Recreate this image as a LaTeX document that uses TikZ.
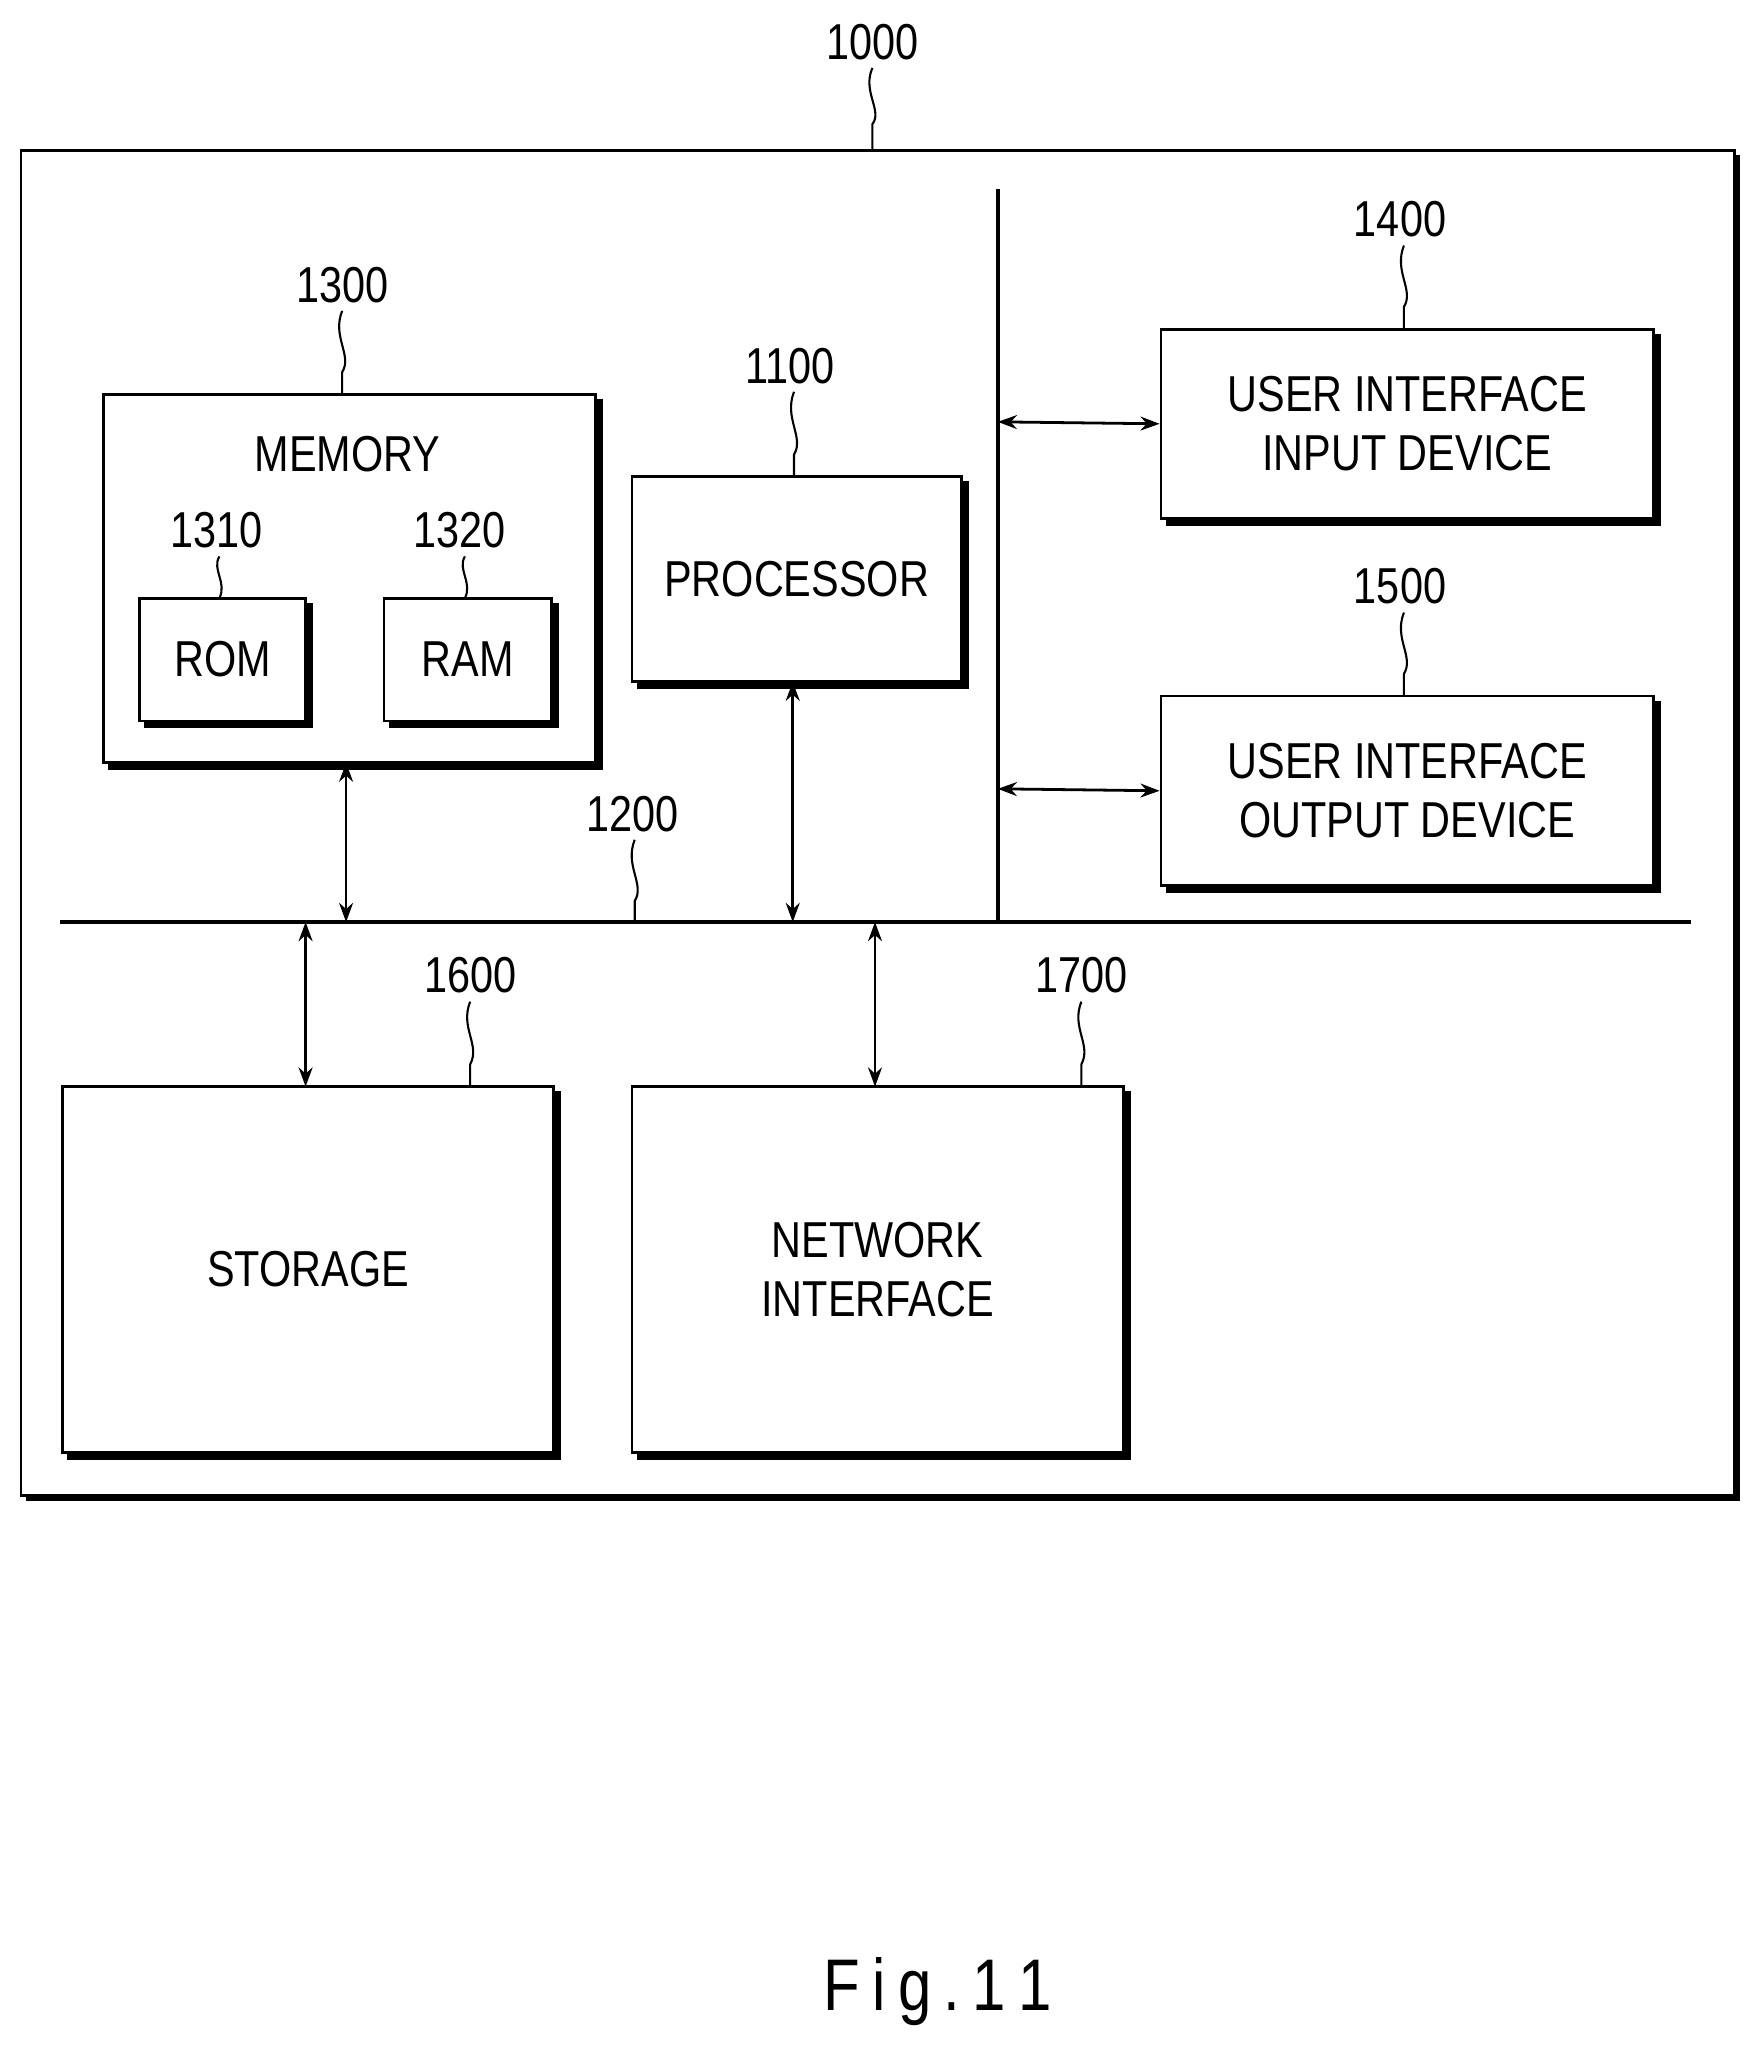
\documentclass[tikz,border=0pt]{standalone}
\usepackage{fontspec}
\setmainfont{Liberation Sans}[FakeStretch=0.82]
\usetikzlibrary{shadows,arrows.meta}
\begin{document}
\begin{tikzpicture}[x=0.75pt,y=-0.75pt,
 box/.style={draw,line width=1.6pt,fill=white,copy shadow={shadow xshift=3.5pt,shadow yshift=-3.5pt,fill=black,draw=black},inner sep=0pt,align=center,font=\fontsize{29}{36}\selectfont},
 lbl/.style={font=\fontsize{29}{34}\selectfont,inner sep=0pt},
 sq/.style={line width=1.2pt},
 arr/.style={line width=1.6pt,{Stealth[length=11pt,width=8pt]}-{Stealth[length=11pt,width=8pt]}},
 ln/.style={line width=2.2pt}]
\useasboundingbox (0,0) rectangle (1350,1572);
% outer
\fill (20,119) rectangle (1332,1149);
\draw[line width=1.6pt,fill=white] (16,115) rectangle (1328,1145);
\node[lbl] (l1000) at (668,32) {1000};
\coordinate (t1000) at (668,115);
\draw[sq] (668,52) .. controls (660,70) and (676,85) .. (668,95) -- (t1000);
% memory
\node[box,minimum width=282.75pt,minimum height=211.5pt] (mem) at (267.5,443) {};
\node[lbl] at (266,348) {MEMORY};
\node[lbl] (l1300) at (262,218) {1300};
\draw[sq] (262,238) .. controls (254,258) and (270,272) .. (262,285) -- (mem.north -| 262,0);
\node[box,minimum width=95.25pt,minimum height=70.5pt] (rom) at (170.5,505) {ROM};
\node[lbl] (l1310) at (166,406) {1310};
\draw[sq] (168,426) .. controls (162,436) and (174,446) .. (168,458);
\node[box,minimum width=96pt,minimum height=70.5pt] (ram) at (358,505) {RAM};
\node[lbl] (l1320) at (352,406) {1320};
\draw[sq] (356,426) .. controls (350,436) and (362,446) .. (356,458);
% processor
\node[box,minimum width=189pt,minimum height=117.75pt] (proc) at (610,443.5) {PROCESSOR};
\node[lbl] (l1100) at (605,280) {1100};
\draw[sq] (608,300) .. controls (600,320) and (616,335) .. (608,348) -- (608,365);
% UI
\node[box,minimum width=282.75pt,minimum height=108.75pt] (uin) at (1077.5,324.5) {USER INTERFACE\\[-2pt]INPUT DEVICE};
\node[lbl] (l1400) at (1072,168) {1400};
\draw[sq] (1075,188) .. controls (1067,208) and (1083,222) .. (1075,235) -- (1075,252);
\node[box,minimum width=282.75pt,minimum height=108.75pt] (uout) at (1077.5,605.5) {USER INTERFACE\\[-2pt]OUTPUT DEVICE};
\node[lbl] (l1500) at (1072,449) {1500};
\draw[sq] (1075,469) .. controls (1067,489) and (1083,503) .. (1075,516) -- (1075,533);
% storage / network
\node[box,minimum width=282pt,minimum height=210pt] (sto) at (236,972) {STORAGE};
\node[lbl] (l1600) at (360,747) {1600};
\draw[sq] (360,767) .. controls (352,787) and (368,800) .. (360,815) -- (360,832);
\node[box,minimum width=282pt,minimum height=210pt] (net) at (672,972) {NETWORK\\[-2pt]INTERFACE};
\node[lbl] (l1700) at (828,747) {1700};
\draw[sq] (828,767) .. controls (820,787) and (836,800) .. (828,815) -- (828,832);
% bus
\coordinate (bl) at (46,706); \coordinate (br) at (1295,706);
\draw[ln] (bl) -- (br);
\coordinate (vt) at (764,145); \coordinate (vb) at (764,706);
\draw[ln] (vt) -- (vb);
\node[lbl] (l1200) at (484,623) {1200};
\draw[sq] (486,643) .. controls (478,663) and (494,677) .. (486,690) -- (486,706);
% arrows
\draw[arr] (265,584) -- (265,706);
\draw[arr] (607,522) -- (607,706);
\draw[arr] (764,323) -- (uin.west);
\draw[arr] (764,604) -- (uout.west);
\draw[arr] (234,706) -- (234,832);
\draw[arr] (670,706) -- (670,832);
\node[font=\fontsize{42}{48}\selectfont] at (718,1525) {F\,i\,g\,.\,1\,1};
\end{tikzpicture}
\end{document}
